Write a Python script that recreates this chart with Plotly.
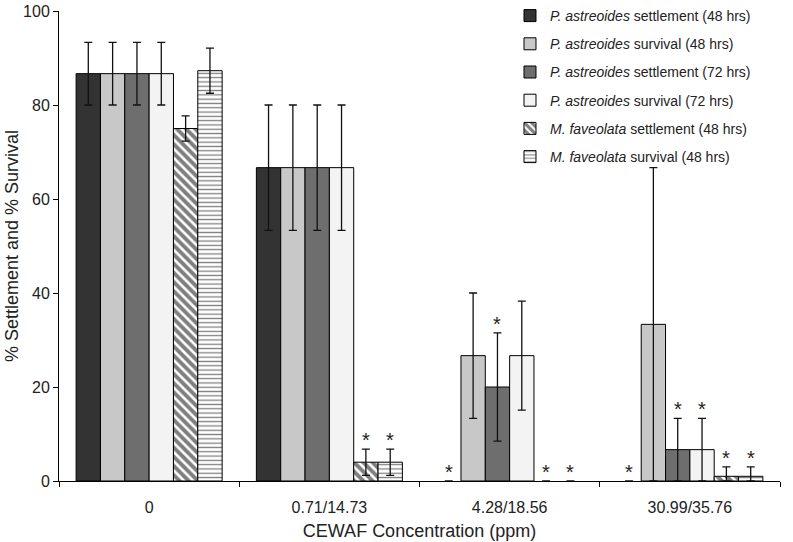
import plotly.graph_objects as go

categories = ["0", "0.71/14.73", "4.28/18.56", "30.99/35.76"]

series_names = [
    "<i>P. astreoides</i> settlement (48 hrs)",
    "<i>P. astreoides</i> survival (48 hrs)",
    "<i>P. astreoides</i> settlement (72 hrs)",
    "<i>P. astreoides</i> survival (72 hrs)",
    "<i>M. faveolata</i> settlement (48 hrs)",
    "<i>M. faveolata</i> survival (48 hrs)",
]

pa_settle_48 = [86.67, 66.67, 0, 0]
pa_survive_48 = [86.67, 66.67, 26.67, 33.33]
pa_settle_72 = [86.67, 66.67, 20, 6.67]
pa_survive_72 = [86.67, 66.67, 26.67, 6.67]
mf_settle_48 = [75, 4, 0, 1]
mf_survive_48 = [87.3, 4, 0, 1]

pa_settle_48_err = [6.67, 13.33, 0, 0]
pa_survive_48_err = [6.67, 13.33, 13.33, 33.33]
pa_settle_72_err = [6.67, 13.33, 11.5, 6.67]
pa_survive_72_err = [6.67, 13.33, 11.6, 6.67]
mf_settle_48_err = [2.7, 2.8, 0, 2]
mf_survive_48_err = [4.8, 2.8, 0, 2]

pa_settle_48_sig = [False, False, True, True]
pa_survive_48_sig = [False, False, False, False]
pa_settle_72_sig = [False, False, True, True]
pa_survive_72_sig = [False, False, False, True]
mf_settle_48_sig = [False, True, True, True]
mf_survive_48_sig = [False, True, True, True]

x_title = "CEWAF Concentration (ppm)"
y_title = "% Settlement and % Survival"

values = [pa_settle_48, pa_survive_48, pa_settle_72, pa_survive_72, mf_settle_48, mf_survive_48]
errors = [pa_settle_48_err, pa_survive_48_err, pa_settle_72_err, pa_survive_72_err,
          mf_settle_48_err, mf_survive_48_err]
signif = [pa_settle_48_sig, pa_survive_48_sig, pa_settle_72_sig, pa_survive_72_sig,
          mf_settle_48_sig, mf_survive_48_sig]

fills = ["#333333", "#c8c8c8", "#6e6e6e", "#f3f3f3", "white", "white"]
patterns = [None, None, None, None,
            dict(shape="\\", fgcolor="black", bgcolor="white", size=6.5, solidity=0.6, fillmode="overlay"),
            dict(shape="-", fgcolor="black", bgcolor="white", size=4.3, solidity=0.3, fillmode="overlay")]

FONT = "Liberation Sans, Arial, sans-serif"
BARGAP = 0.19

fig = go.Figure()
for k in range(6):
    marker = dict(color=fills[k],
                  line=dict(color="black", width=[1 if v > 0 else 0 for v in values[k]]))
    if patterns[k]:
        marker["pattern"] = patterns[k]
    up = [e if v > 0 else None for e, v in zip(errors[k], values[k])]
    down = [min(e, v) if v > 0 else None for e, v in zip(errors[k], values[k])]
    fig.add_trace(go.Bar(
        x=categories, y=values[k], name=series_names[k],
        marker=marker, legendgroup=str(k),
        error_y=dict(type="data", symmetric=False, array=up, arrayminus=down,
                     color="#111111", thickness=1.3, width=4),
    ))

# significance asterisks
n = len(values)
bw = (1 - BARGAP) / n
for k in range(n):
    for i in range(len(categories)):
        if signif[k][i]:
            xc = i - (1 - BARGAP) / 2 + (k + 0.5) * bw
            top = values[k][i] + errors[k][i]
            fig.add_annotation(x=xc, y=top, xref="x", yref="y", text="*",
                               showarrow=False, yanchor="bottom", yshift=-4,
                               font=dict(family=FONT, size=20, color="#222222"))

# y-axis title
fig.add_annotation(x=0, y=0.5, xref="paper", yref="paper", text=y_title,
                   textangle=-90, showarrow=False, xanchor="center", yanchor="middle",
                   xshift=-47, font=dict(family=FONT, size=18, color="#222222"))

fig.update_layout(
    barmode="group", bargap=BARGAP, bargroupgap=0,
    width=793, height=542,
    margin=dict(l=59, r=13, t=11, b=61, autoexpand=False),
    paper_bgcolor="white", plot_bgcolor="white",
    font=dict(family=FONT, size=15, color="#222222"),
    showlegend=True,
    legend=dict(x=0.6255, y=1.028, xanchor="left", yanchor="top", yref="container",
                font=dict(family=FONT, size=14, color="#222222"),
                bgcolor="rgba(0,0,0,0)", traceorder="grouped",
                tracegroupgap=7, itemwidth=30),
)
fig.update_xaxes(
    type="category", tickson="boundaries", ticks="outside", ticklen=5,
    tickcolor="black", showline=True, linecolor="black", linewidth=1,
    showgrid=False, tickfont=dict(size=16), automargin=False, ticklabelstandoff=12,
    title=dict(text=x_title, font=dict(size=18), standoff=9),
)
fig.update_yaxes(
    range=[0, 100], tickvals=[0, 20, 40, 60, 80, 100], ticks="outside", ticklen=5,
    tickcolor="black", showline=True, linecolor="black", linewidth=1,
    showgrid=False, zeroline=False, tickfont=dict(size=16), automargin=False,
)

fig.write_html("out.html", config={"displayModeBar": False},
               post_script="document.body.style.margin='0';")
